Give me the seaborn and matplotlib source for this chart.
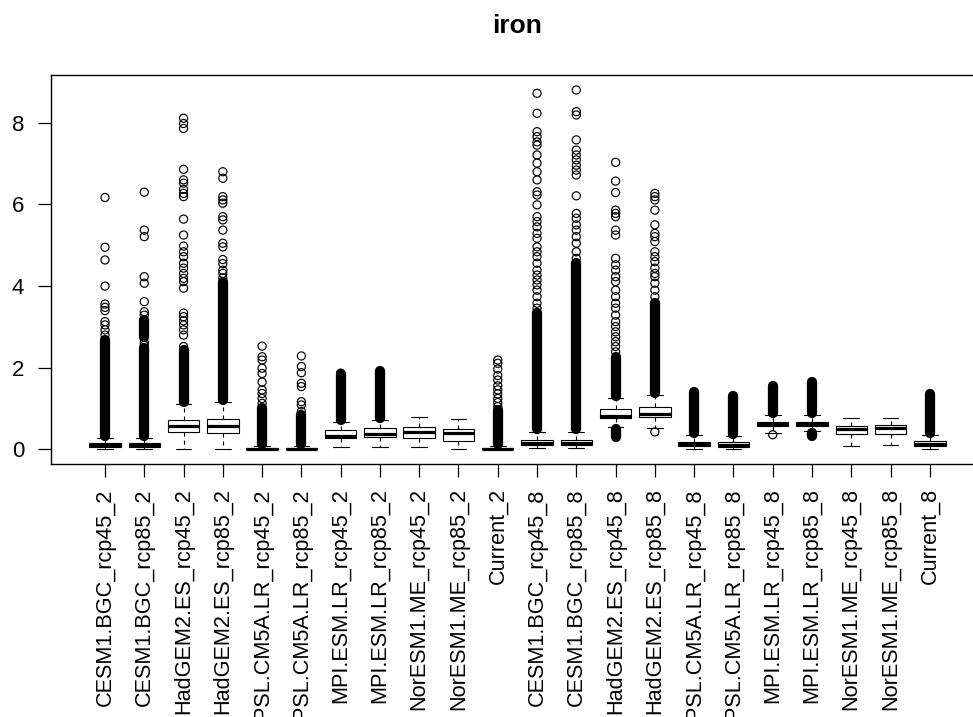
import numpy as np
import pandas as pd
import matplotlib
matplotlib.use("Agg")
import matplotlib.pyplot as plt
import seaborn as sns

# ---------------- data ----------------
groups = ["CESM1.BGC_rcp45_2", "CESM1.BGC_rcp85_2", "HadGEM2.ES_rcp45_2", "HadGEM2.ES_rcp85_2",
          "IPSL.CM5A.LR_rcp45_2", "IPSL.CM5A.LR_rcp85_2", "MPI.ESM.LR_rcp45_2", "MPI.ESM.LR_rcp85_2",
          "NorESM1.ME_rcp45_2", "NorESM1.ME_rcp85_2", "Current_2",
          "CESM1.BGC_rcp45_8", "CESM1.BGC_rcp85_8", "HadGEM2.ES_rcp45_8", "HadGEM2.ES_rcp85_8",
          "IPSL.CM5A.LR_rcp45_8", "IPSL.CM5A.LR_rcp85_8", "MPI.ESM.LR_rcp45_8", "MPI.ESM.LR_rcp85_8",
          "NorESM1.ME_rcp45_8", "NorESM1.ME_rcp85_8", "Current_8"]

# five-number summaries (lower whisker, Q1, median, Q3, upper whisker)
whisker_low = [0.00, 0.00, 0.02, 0.01, 0.00, 0.00, 0.05, 0.05, 0.05, 0.01, 0.00,
               0.04, 0.04, 0.55, 0.53, 0.01, 0.00, 0.41, 0.45, 0.085, 0.11, 0.01]
q1 = [0.05, 0.05, 0.42, 0.40, 0.01, 0.01, 0.27, 0.30, 0.27, 0.21, 0.01,
      0.10, 0.10, 0.77, 0.80, 0.08, 0.06, 0.58, 0.57, 0.37, 0.37, 0.08]
median = [0.10, 0.10, 0.58, 0.58, 0.02, 0.02, 0.34, 0.38, 0.43, 0.41, 0.02,
          0.16, 0.16, 0.83, 0.86, 0.13, 0.12, 0.63, 0.63, 0.49, 0.52, 0.14]
q3 = [0.15, 0.15, 0.72, 0.75, 0.04, 0.04, 0.48, 0.52, 0.56, 0.51, 0.04,
      0.24, 0.24, 0.99, 1.05, 0.19, 0.18, 0.68, 0.68, 0.58, 0.61, 0.20]
whisker_high = [0.28, 0.27, 1.12, 1.17, 0.08, 0.08, 0.68, 0.73, 0.80, 0.75, 0.08,
                0.44, 0.44, 1.27, 1.33, 0.36, 0.33, 0.84, 0.84, 0.78, 0.78, 0.35]

# ranges where outlier circles overlap into a solid column
dense_group = ["CESM1.BGC_rcp45_2", "CESM1.BGC_rcp85_2", "CESM1.BGC_rcp85_2", "HadGEM2.ES_rcp45_2",
               "HadGEM2.ES_rcp85_2", "IPSL.CM5A.LR_rcp45_2", "IPSL.CM5A.LR_rcp85_2",
               "MPI.ESM.LR_rcp45_2", "MPI.ESM.LR_rcp85_2", "Current_2",
               "CESM1.BGC_rcp45_8", "CESM1.BGC_rcp85_8", "HadGEM2.ES_rcp45_8", "HadGEM2.ES_rcp45_8",
               "HadGEM2.ES_rcp85_8", "IPSL.CM5A.LR_rcp45_8", "IPSL.CM5A.LR_rcp85_8",
               "MPI.ESM.LR_rcp45_8", "MPI.ESM.LR_rcp85_8", "MPI.ESM.LR_rcp85_8", "Current_8"]
dense_low = [0.33, 0.32, 2.75, 1.17, 1.22, 0.13, 0.13, 0.73, 0.78, 0.13,
             0.49, 0.49, 1.32, 0.30, 1.38, 0.41, 0.38, 0.89, 0.89, 0.32, 0.40]
dense_high = [2.68, 2.48, 3.17, 2.44, 4.10, 1.01, 0.84, 1.85, 1.93, 0.97,
              3.33, 4.56, 2.27, 0.50, 3.58, 1.41, 1.30, 1.55, 1.66, 0.40, 1.35]

# individual outliers
outliers = {
    "CESM1.BGC_rcp45_2": [6.17, 4.95, 4.64, 4.00, 3.56, 3.48, 3.40, 3.13, 3.05, 2.93, 2.80],
    "CESM1.BGC_rcp85_2": [6.30, 5.37, 5.21, 4.23, 4.07, 3.62, 3.37, 3.29, 2.62, 2.55],
    "HadGEM2.ES_rcp45_2": [8.11, 7.98, 7.86, 6.86, 6.60, 6.52, 6.37, 6.27, 6.19, 5.64, 5.25, 4.98,
                           4.84, 4.72, 4.56, 4.44, 4.31, 4.19, 4.11, 3.95, 3.34, 3.25, 3.15, 3.05,
                           2.93, 2.80, 2.52],
    "HadGEM2.ES_rcp85_2": [6.80, 6.64, 6.19, 6.11, 6.03, 5.70, 5.62, 5.37, 5.05, 4.96, 4.65, 4.55,
                           4.39, 4.31, 4.20],
    "IPSL.CM5A.LR_rcp45_2": [2.53, 2.27, 2.19, 1.99, 1.86, 1.65, 1.46, 1.37, 1.25, 1.13],
    "IPSL.CM5A.LR_rcp85_2": [2.29, 2.03, 1.88, 1.62, 1.54, 1.17, 1.09, 0.93],
    "MPI.ESM.LR_rcp45_2": [1.87],
    "Current_2": [2.19, 2.11, 1.97, 1.81, 1.70, 1.56, 1.46, 1.36, 1.25, 1.15, 1.05],
    "CESM1.BGC_rcp45_8": [8.72, 8.23, 7.78, 7.66, 7.53, 7.45, 7.21, 7.01, 6.80, 6.60, 6.31, 6.23,
                          5.99, 5.70, 5.58, 5.45, 5.29, 5.17, 4.96, 4.84, 4.72, 4.56, 4.39, 4.27,
                          4.15, 4.03, 3.90, 3.74, 3.58, 3.46],
    "CESM1.BGC_rcp85_8": [8.80, 8.27, 8.19, 7.58, 7.33, 7.21, 7.09, 6.96, 6.84, 6.72, 6.21, 5.78,
                          5.66, 5.50, 5.37, 5.21, 5.05, 4.84, 4.68],
    "HadGEM2.ES_rcp45_8": [7.03, 6.57, 6.29, 5.86, 5.78, 5.70, 5.37, 5.25, 4.68, 4.52, 4.39, 4.23,
                           4.11, 3.90, 3.74, 3.58, 3.46, 3.29, 3.13, 3.01, 2.88, 2.76, 2.64, 2.52,
                           2.39],
    "HadGEM2.ES_rcp85_8": [6.27, 6.19, 6.11, 5.86, 5.50, 5.29, 5.21, 5.09, 4.84, 4.72, 4.60, 4.44,
                           4.31, 4.23, 4.07, 3.90, 3.74, 0.43],
    "IPSL.CM5A.LR_rcp85_8": [1.30],
    "MPI.ESM.LR_rcp45_8": [0.36],
}

y_ticks = [0, 2, 4, 6, 8]
title = "iron"

# ---------------- build tables ----------------
box_df = pd.DataFrame({
    "group": np.repeat(groups, 5),
    "value": np.column_stack([whisker_low, q1, median, q3, whisker_high]).ravel(),
})
pos_of = {g: i for i, g in enumerate(groups)}
out_df = pd.DataFrame([(pos_of[g], v) for g, vals in outliers.items() for v in vals],
                      columns=["pos", "value"])
dense_df = pd.DataFrame({"pos": [pos_of[g] for g in dense_group],
                         "low": dense_low, "high": dense_high})

# ---------------- plot ----------------
sns.set_theme(style="ticks")
plt.rcParams["font.family"] = ["Liberation Sans", "DejaVu Sans"]
plt.rcParams["lines.scale_dashes"] = False
plt.rcParams["text.color"] = "black"
plt.rcParams["xtick.color"] = "black"
plt.rcParams["ytick.color"] = "black"
plt.rcParams["xtick.labelcolor"] = "black"
plt.rcParams["ytick.labelcolor"] = "black"
plt.rcParams["axes.labelcolor"] = "black"

fig = plt.figure(figsize=(9.73, 7.17), dpi=100)
ax = fig.add_axes([50.8 / 973, 1 - 463.5 / 717, (984 - 50.8) / 973, (463.5 - 75) / 717])

sns.boxplot(data=box_df, x="group", y="value", order=groups, whis=(0, 100),
            width=0.8, showfliers=False, color="white", linecolor="black", linewidth=0.8,
            medianprops=dict(linewidth=2.3, color="black", solid_capstyle="butt"),
            whiskerprops=dict(linestyle=(0, (2.9, 2.9)), color="black", linewidth=0.8),
            capprops=dict(color="black", linewidth=0.8),
            ax=ax)

lc = ax.vlines(dense_df["pos"], dense_df["low"], dense_df["high"], colors="black",
               linewidth=7.4, zorder=4)
lc.set_capstyle("round")

sns.scatterplot(x=out_df["pos"], y=out_df["value"], marker="o", s=34, linewidth=0.85,
                ax=ax, zorder=5, legend=False)
pts = ax.collections[-1]
pts.set_facecolor("none")
pts.set_edgecolor("black")

ax.set_xlim(-1.38, 22.38)
ax.set_ylim(-0.343, 9.168)
ax.set_xticks(range(len(groups)))
ax.set_xticklabels(groups, rotation=90, ha="center", va="top", fontsize=15.6, color="black")
ax.set_yticks(y_ticks)
ax.set_yticklabels([str(t) for t in y_ticks], fontsize=16, color="black")
ax.set_xlabel("")
ax.set_ylabel("")
ax.tick_params(axis="x", length=9.2, width=0.9, color="black", pad=8.6)
ax.tick_params(axis="y", length=9.2, width=0.9, color="black", pad=10)
for s in ax.spines.values():
    s.set_visible(True)
    s.set_color("black")
    s.set_linewidth(1.0)
ax.set_title(title, fontsize=19, fontweight="bold", pad=30, color="black")

fig.savefig("out.png", dpi=100)
